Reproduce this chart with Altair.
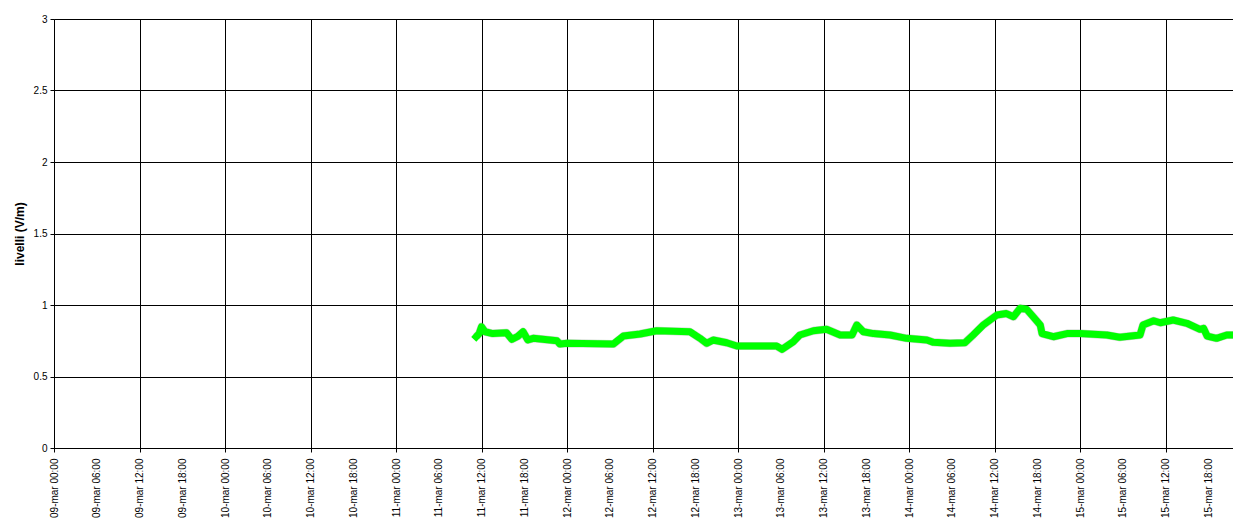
import altair as alt
import pandas as pd

times = [
    "2011-03-11T11:15", "2011-03-11T11:40", "2011-03-11T12:00", "2011-03-11T12:30",
    "2011-03-11T13:35", "2011-03-11T15:30", "2011-03-11T16:15", "2011-03-11T17:05",
    "2011-03-11T17:50", "2011-03-11T18:30", "2011-03-11T19:15", "2011-03-11T22:35",
    "2011-03-11T23:00", "2011-03-12T00:00", "2011-03-12T06:30", "2011-03-12T07:55",
    "2011-03-12T10:15", "2011-03-12T12:35", "2011-03-12T17:15", "2011-03-12T18:40",
    "2011-03-12T19:35", "2011-03-12T20:30", "2011-03-12T22:25", "2011-03-12T23:50",
    "2011-03-13T05:25", "2011-03-13T06:10", "2011-03-13T07:45", "2011-03-13T08:40",
    "2011-03-13T10:35", "2011-03-13T12:25", "2011-03-13T14:20", "2011-03-13T16:00",
    "2011-03-13T16:40", "2011-03-13T17:35", "2011-03-13T19:00", "2011-03-13T21:20",
    "2011-03-13T23:40", "2011-03-14T02:30", "2011-03-14T03:25", "2011-03-14T05:45",
    "2011-03-14T07:50", "2011-03-14T09:00", "2011-03-14T10:25", "2011-03-14T12:20",
    "2011-03-14T13:40", "2011-03-14T14:40", "2011-03-14T15:35", "2011-03-14T16:30",
    "2011-03-14T17:25", "2011-03-14T18:25", "2011-03-14T18:40", "2011-03-14T20:15",
    "2011-03-14T22:10", "2011-03-15T00:00", "2011-03-15T03:45", "2011-03-15T05:35",
    "2011-03-15T08:25", "2011-03-15T08:50", "2011-03-15T10:20", "2011-03-15T11:15",
    "2011-03-15T13:05", "2011-03-15T15:00", "2011-03-15T16:50", "2011-03-15T17:20",
    "2011-03-15T17:50", "2011-03-15T19:10", "2011-03-15T20:35", "2011-03-15T22:30",
]
values = [
    0.778, 0.800, 0.848, 0.813,
    0.800, 0.806, 0.760, 0.780,
    0.813, 0.755, 0.767, 0.750,
    0.727, 0.732, 0.727, 0.783,
    0.797, 0.820, 0.813, 0.767,
    0.732, 0.755, 0.736, 0.713,
    0.713, 0.690, 0.743, 0.790,
    0.820, 0.830, 0.790, 0.790,
    0.860, 0.813, 0.800, 0.790,
    0.767, 0.755, 0.739, 0.732,
    0.736, 0.790, 0.860, 0.930,
    0.940, 0.918, 0.977, 0.970,
    0.918, 0.860, 0.800, 0.778,
    0.800, 0.800, 0.790, 0.774,
    0.790, 0.860, 0.890, 0.876,
    0.895, 0.872, 0.830, 0.837,
    0.783, 0.767, 0.790, 0.790,
]
y_ticks = [0, 0.5, 1, 1.5, 2, 2.5, 3]
tick_days = [9, 10, 11, 12, 13, 14, 15]
tick_hours = [0, 6, 12, 18]

df = pd.DataFrame({"t": [s + ":00Z" for s in times], "v": values})

FONT = "Liberation Sans"
every12 = {"condition": {"test": "utchours(datum.value) % 12 === 0", "value": 1}, "value": 0}
x_ticks = [alt.DateTime(year=2011, month=3, date=d, hours=h, utc=True)
           for d in tick_days for h in tick_hours]

x = alt.X(
    "t:T",
    scale=alt.Scale(
        type="utc",
        nice=False,
        domain=[
            alt.DateTime(year=2011, month=3, date=9, hours=0, minutes=0, utc=True),
            alt.DateTime(year=2011, month=3, date=15, hours=21, minutes=28, utc=True),
        ],
    ),
    axis=alt.Axis(
        title=None,
        values=x_ticks,
        labelAngle=-90,
        labelExpr="lower(utcFormat(datum.value, '%d-%b %H:%M'))",
        labelFont=FONT,
        labelFontSize=10,
        labelColor="black",
        labelPadding=6,
        labelOverlap=False,
        labelFlush=False,
        grid=True,
        gridColor="black",
        gridWidth=1,
        gridOpacity=every12,
        tickColor="black",
        tickSize=4,
        tickOpacity=every12,
        domainColor="black",
    ),
)
y = alt.Y(
    "v:Q",
    scale=alt.Scale(domain=[0, 3], nice=False),
    axis=alt.Axis(
        title="livelli (V/m)",
        titleFont=FONT,
        titleFontSize=12,
        titleFontWeight="bold",
        titleColor="black",
        titlePadding=7,
        values=y_ticks,
        format="~g",
        labelFont=FONT,
        labelFontSize=10,
        labelColor="black",
        labelPadding=3,
        grid=True,
        gridColor="black",
        gridWidth=1,
        tickColor="black",
        tickSize=4,
        domainColor="black",
    ),
)

base = alt.Chart(df)
shadow = base.mark_line(color="#6f8f6f", strokeWidth=8, opacity=0.4, strokeJoin="round",
                        clip=True).encode(x=x, y=y)
line = base.mark_line(color="#00FF00", strokeWidth=7, strokeCap="square", strokeJoin="round",
                      clip=True).encode(x=x, y=y)

chart = (
    alt.layer(shadow, line)
    .properties(
        width=1179,
        height=429,
        autosize=alt.AutoSizeParams(type="none"),
        padding={"left": 46, "top": 11, "right": 0, "bottom": 72},
        background="white",
    )
    .configure_view(stroke=None)
)

chart.save("out.html", embed_options={"renderer": "svg", "actions": False})
